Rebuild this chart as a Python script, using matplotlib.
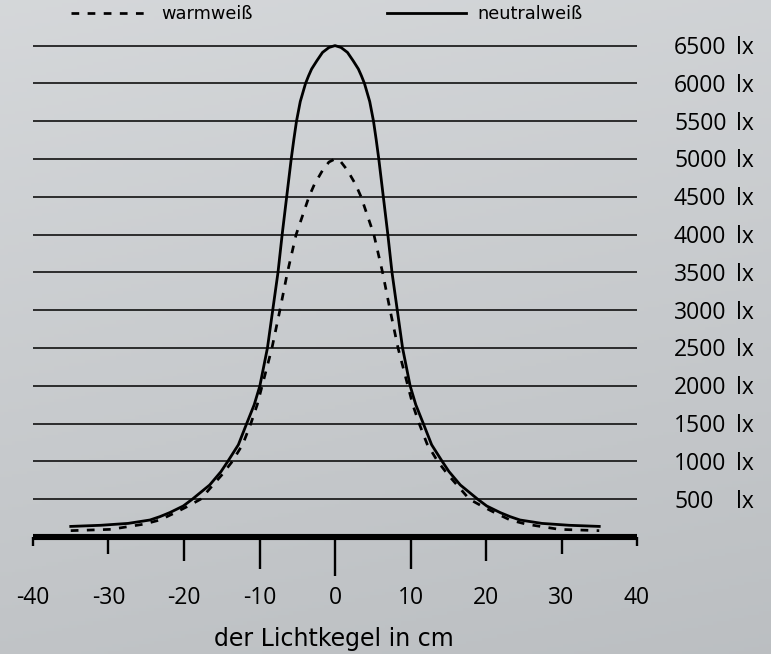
import numpy as np
import matplotlib.pyplot as plt
from matplotlib import transforms

# values (half profiles, curves are symmetric around 0)
neutral_x = [0, 0.8, 1.65, 2.4, 3.1, 3.5, 3.9, 4.25, 4.6, 5.1, 5.45, 5.8, 6.4, 7.0, 7.55,
             8.25, 8.95, 9.95, 10.7, 11.7, 12.8, 14.2, 15.1, 16.6, 18.9, 20.1, 21.9,
             23.2, 24.5, 27.4, 31.0, 35.0]
neutral_y = [6500, 6475, 6410, 6300, 6190, 6100, 6000, 5880, 5760, 5500, 5260, 5000, 4500,
             4000, 3500, 3000, 2500, 2000, 1750, 1500, 1220, 1000, 865, 688, 500, 410, 322,
             269, 225, 180, 155, 140]

warm_x = [0, 0.8, 1.65, 2.75, 3.45, 5.15, 6.3, 7.3, 8.35, 9.65, 10.3, 11.15, 12.2, 13.6,
          15.0, 16.35, 17.8, 19.6, 21.4, 23.2, 25.3, 29.7, 35.0]
warm_y = [5000, 4960, 4850, 4660, 4500, 4000, 3500, 3000, 2500, 2000, 1750, 1500, 1230, 1000,
          820, 666, 500, 401, 310, 225, 170, 101, 84]

levels = [500, 1000, 1500, 2000, 2500, 3000, 3500, 4000, 4500, 5000, 5500, 6000, 6500]
level_labels = ["500", "1000", "1500", "2000", "2500", "3000", "3500",
                "4000", "4500", "5000", "5500", "6000", "6500"]
x_ticks = [-40, -30, -20, -10, 0, 10, 20, 30, 40]
x_tick_labels = ["-40", "-30", "-20", "-10", "0", "10", "20", "30", "40"]


def mirror(xs, ys):
    xs = np.asarray(xs, dtype=float)
    ys = np.asarray(ys, dtype=float)
    return (np.concatenate([-xs[:0:-1], xs]), np.concatenate([ys[:0:-1], ys]))


plt.rcParams['font.family'] = ['Open Sans', 'DejaVu Sans']

W, H = 771, 654
fig = plt.figure(figsize=(W / 100, H / 100), dpi=100)

# grey gradient background
bg = fig.add_axes([0, 0, 1, 1], zorder=-10)
yy, xx = np.mgrid[0:1:200j, 0:1:200j]
t = 0.8 * yy + 0.2 * xx
top = np.array([0.835, 0.845, 0.855])
bottom = np.array([0.735, 0.748, 0.760])
img = top[None, None, :] * (1 - t[..., None]) + bottom[None, None, :] * t[..., None]
bg.imshow(img, aspect='auto', extent=[0, 1, 0, 1], origin='upper')
bg.axis('off')

ax_left, ax_right = 33, 637
y0_px, step_px = 537, 37.8
ylim_top = 7000
ax_h = step_px * ylim_top / 500
ax = fig.add_axes([ax_left / W, (H - y0_px) / H, (ax_right - ax_left) / W, ax_h / H])
ax.set_facecolor('none')
ax.set_xlim(-40, 40)
ax.set_ylim(0, ylim_top)

# horizontal level lines
ax.hlines(levels, -40, 40, color='#111111', lw=1.2, zorder=1)

# curves
wx, wy = mirror(warm_x, warm_y)
nx, ny = mirror(neutral_x, neutral_y)
warm_line, = ax.plot(wx, wy, color='black', lw=1.95, linestyle=(0, (2.85, 3.1)),
                     label='warmweiß', zorder=3)
neutral_line, = ax.plot(nx, ny, color='black', lw=2.0, label='neutralweiß', zorder=3,
                        solid_joinstyle='round')

# axis bar and fan-shaped ticks
for side in ['left', 'right', 'top']:
    ax.spines[side].set_visible(False)
ax.spines['bottom'].set_linewidth(4.4)
ax.spines['bottom'].set_capstyle('butt')
ax.spines['bottom'].set_color('black')
ax.set_yticks([])
ax.set_xticks(x_ticks, labels=x_tick_labels)
ax.tick_params(axis='x', length=0, pad=35, labelsize=16.5, colors='black')

px2lx = 500 / step_px
for xt in x_ticks:
    length = 39 - 0.75 * abs(xt)
    ax.plot([xt, xt], [0, -length * px2lx], color='black', lw=1.7,
            solid_capstyle='butt', clip_on=False, zorder=4)

# right-hand level labels
trans = transforms.blended_transform_factory(ax.transAxes, ax.transData)
trans = transforms.offset_copy(trans, fig=fig, y=-6, units='points')
num_x = (674 - ax_left) / (ax_right - ax_left)
unit_x = (736 - ax_left) / (ax_right - ax_left)
for lv, lab in zip(levels, level_labels):
    ax.text(num_x, lv, lab, transform=trans, ha='left', va='baseline', fontsize=16.5,
            clip_on=False)
    ax.text(unit_x, lv, 'lx', transform=trans, ha='left', va='baseline', fontsize=16.5,
            clip_on=False)

ax.set_xlabel('der Lichtkegel in cm', fontsize=17, family=['DejaVu Sans'])
ax.xaxis.set_label_coords(0.4975, -(627 - y0_px) / ax_h)

fig.legend(handles=[warm_line, neutral_line], ncol=2, loc='center left',
           bbox_to_anchor=(71 / W, 1 - 14 / H), bbox_transform=fig.transFigure,
           frameon=False, handlelength=4.4, handletextpad=0.65,
           columnspacing=7.6, borderpad=0, borderaxespad=0,
           prop={'family': ['DejaVu Sans'], 'size': 12.8})

fig.savefig('out.png', dpi=100)
